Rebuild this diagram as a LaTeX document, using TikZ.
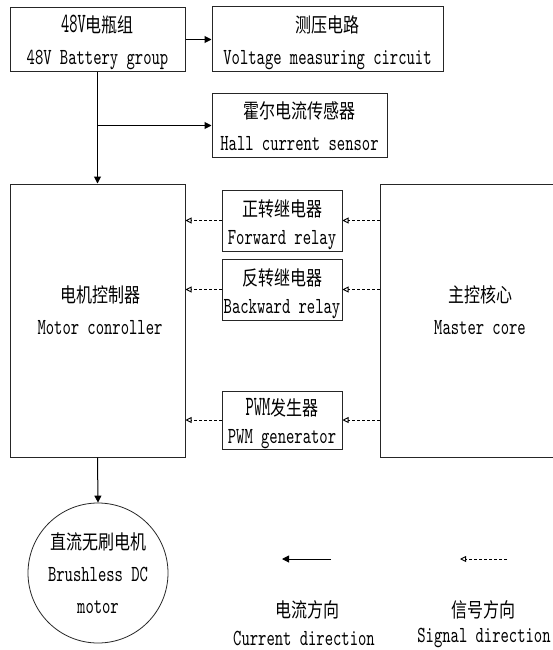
\documentclass[tikz,border=0pt]{standalone}
\usepackage{fontspec}
\setmainfont{lmmono10-regular.otf}[FakeStretch=0.69]
\newfontfamily\tallmono{lmmono10-regular.otf}[FakeStretch=0.56]
\newfontfamily\cjk[FakeStretch=0.8]{Noto Sans CJK SC}
\usetikzlibrary{arrows.meta}
\newcommand\cn[1]{{\fontsize{20}{30}\selectfont\cjk #1}}
\newcommand\lat[1]{{\fontsize{28}{30}\selectfont\tallmono #1}}
\tikzset{
  box/.style={draw=black!85, line width=1pt, inner sep=0pt},
  txt/.style={inner sep=0pt, align=center, font=\fontsize{23}{32}\selectfont},
  rtxt/.style={inner sep=0pt, align=center, font=\fontsize{23}{28}\selectfont},
  cur/.style={-{Triangle[length=7pt,width=7pt]}, line width=1pt},
  sig/.style={-{Triangle[open,length=6pt,width=6pt]}, line width=0.9pt,
    dash pattern=on 3pt off 2pt}
}
\begin{document}
\begin{tikzpicture}[x=1pt,y=-1pt]
\clip (0,0) rectangle (553,650);
\fill[white] (0,0) rectangle (553,650);
% boxes
\node[box, minimum width=175pt, minimum height=64pt] (bat) at (97.5,39.5) {};
\node[txt] (battxt) at ([yshift=-3pt]bat.center) {\lat{48V}\cn{电瓶组}\\48V Battery group};
\node[box, minimum width=231pt, minimum height=65pt] (volt) at (327.5,39.5) {};
\node[txt] (volttxt) at ([yshift=-3pt]volt.center) {\cn{测压电路}\\Voltage measuring circuit};
\node[box, minimum width=175pt, minimum height=63pt] (hall) at (299.5,125.5) {};
\node[txt] (halltxt) at ([yshift=-1pt]hall.center) {\cn{霍尔电流传感器}\\Hall current sensor};
\node[box, minimum width=175pt, minimum height=273pt] (ctrl) at (97.5,320.5) {};
\node[txt] (ctrltxt) at (100,310) {\cn{电机控制器}\\Motor conroller};
\node[box, minimum width=200pt, minimum height=273pt] (master) at (480,320.5) {};
\node[txt] (mastertxt) at (480,310) {\cn{主控核心}\\Master core};
\node[box, minimum width=120pt, minimum height=61pt] (fwd) at (282,220.5) {};
\node[rtxt] (fwdtxt) at ([yshift=-4pt]fwd.center) {\cn{正转继电器}\\Forward relay};
\node[box, minimum width=120pt, minimum height=61pt] (bwd) at (282,289.5) {};
\node[rtxt] (bwdtxt) at ([yshift=-4pt]bwd.center) {\cn{反转继电器}\\Backward relay};
\node[box, minimum width=120pt, minimum height=58pt] (pwm) at (282,420) {};
\node[rtxt] (pwmtxt) at ([yshift=-4pt]pwm.center) {\lat{PWM}\cn{发生器}\\PWM generator};
\node[circle, draw=black!85, line width=0.8pt, inner sep=0pt, minimum size=140pt, align=center,
  font=\fontsize{23}{32}\selectfont] (motor) at (98,573)
  {\cn{直流无刷电机}\\Brushless DC\\motor};
% current connectors
\draw[cur] (bat.east) -- (volt.west);
\draw[cur] (bat.south) -- (ctrl.north);
\coordinate (br) at (bat.south |- hall.west);
\draw[cur] (br) -- (hall.west);
\draw[cur] (ctrl.south) -- (motor.north);
% signal connectors
\foreach \n in {fwd,bwd,pwm}{
  \draw[sig] (master.west |- \n.east) -- (\n.east);
  \draw[sig] (\n.west) -- (ctrl.east |- \n.west);
}
% legend
\coordinate (c1) at (331,559);
\coordinate (c2) at (282,559);
\draw[cur] (c1) -- (c2);
\coordinate (s1) at (507,559);
\coordinate (s2) at (460,559);
\draw[sig] (s1) -- (s2);
\node[txt] (l1) at (307,610) {\cn{电流方向}};
\node[txt] (l2) at (304,638) {Current direction};
\node[txt] (l3) at (483,610) {\cn{信号方向}};
\node[txt] (l4) at (484,638) {Signal direction};
\end{tikzpicture}
\end{document}
